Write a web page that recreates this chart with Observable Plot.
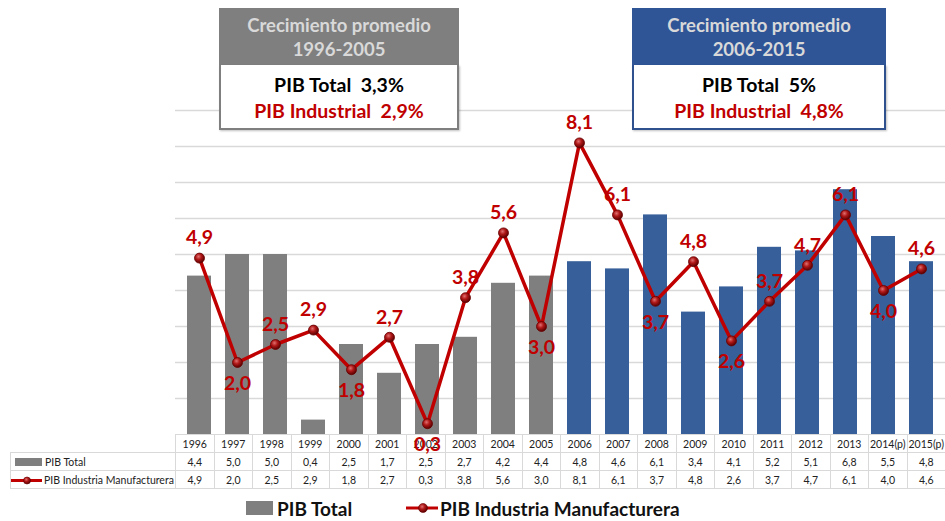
<!DOCTYPE html>
<html>
<head>
<meta charset="utf-8">
<script src="https://cdn.jsdelivr.net/npm/d3@7"></script>
<script src="https://cdn.jsdelivr.net/npm/@observablehq/plot@0.6"></script>
<style>
  body { margin: 0; background: #fff; font-family: Lato, "Open Sans", sans-serif; }
  #wrap { position: relative; width: 945px; height: 521px; overflow: hidden; }
  #chart svg { position: absolute; left: 0; top: 0; overflow: visible; z-index: 2; }
  .box { position: absolute; top: 8px; box-sizing: border-box; z-index: 3; }
  .box .hd { height: 57px; color: #d9d9d9; font-weight: 700; font-size: 18.5px; line-height: 24px; text-align: center; padding-top: 5px; box-sizing: border-box; }
  .box .bd { height: 65px; background: #fff; border: 2px solid; border-top: none; box-sizing: border-box; text-align: center; font-weight: 700; font-size: 19.5px; line-height: 26px; padding-top: 7px; box-shadow: 1px 1px 2px rgba(0,0,0,0.25); }
  .box .bd .red { color: #c00000; }
  table { position: absolute; left: 10px; top: 434px; border-collapse: collapse; table-layout: fixed; width: 935px; font-size: 10.5px; color: #222; z-index: 1; }
  td { border: 1px solid #d9d9d9; height: 17px; padding: 0; text-align: center; white-space: nowrap; overflow: visible; }
  td.lab { text-align: left; padding-left: 2px; }
  td.blank { border: none; }
  #legend { position: absolute; top: 496px; left: 0; width: 945px; height: 24px; font-weight: 700; font-size: 19px; color: #111; }
  #legend .it { position: absolute; top: 0; display: flex; align-items: center; height: 24px; }
</style>
</head>
<body>
<div id="wrap">
  <div id="chart"></div>
</div>
<script>
// ---- data ----
const years = ["1996","1997","1998","1999","2000","2001","2002","2003","2004","2005","2006","2007","2008","2009","2010","2011","2012","2013","2014(p)","2015(p)"];
const pibTotal = [4.4,5.0,5.0,0.4,2.5,1.7,2.5,2.7,4.2,4.4,4.8,4.6,6.1,3.4,4.1,5.2,5.1,6.8,5.5,4.8];
const pibIndustria = [4.9,2.0,2.5,2.9,1.8,2.7,0.3,3.8,5.6,3.0,8.1,6.1,3.7,4.8,2.6,3.7,4.7,6.1,4.0,4.6];
const periods = ["1996-2005","2006-2015"];
const periodOfYear = years.map((y, i) => i < 10 ? periods[0] : periods[1]);
const boxTitle = "Crecimiento promedio";
const boxTotal = ["3,3%","5%"];
const boxIndustrial = ["2,9%","4,8%"];
const seriesNames = ["PIB Total","PIB Industria Manufacturera"];
const gridValues = [1,2,3,4,5,6,7,8,9];

const GRAY = "#7f7f7f", BLUE = "#37609a", HEADBLUE = "#2f5597", RED = "#c00000";
const fmt = v => v.toFixed(1).replace(".", ",");

const data = years.map((y, i) => ({
  year: y, total: pibTotal[i], ind: pibIndustria[i], period: periodOfYear[i],
  low: i > 0 && i < years.length - 1 && pibIndustria[i] < pibIndustria[i-1] && pibIndustria[i] < pibIndustria[i+1]
}));

const chart = Plot.plot({
  width: 945, height: 434,
  marginTop: 110, marginLeft: 175, marginRight: 0, marginBottom: 0,
  x: { domain: years, paddingInner: 0.37, paddingOuter: 0.185, axis: null },
  y: { domain: [0, 9], axis: null },
  color: { domain: periods, range: [GRAY, BLUE] },
  style: { fontFamily: "Lato, 'Open Sans', sans-serif", background: "transparent" },
  marks: [
    Plot.ruleY(gridValues, { stroke: "#d9d9d9", strokeWidth: 1.4 }),
    Plot.barY(data, { x: "year", y: "total", fill: "period" }),
    Plot.line(data, { x: "year", y: "ind", stroke: RED, strokeWidth: 3.5 }),
    Plot.dot(data, { x: "year", y: "ind", r: 5, fill: "url(#ball)", stroke: "#6a0000", strokeWidth: 0.8 }),
    Plot.text(data, { filter: d => !d.low, x: "year", y: "ind", text: d => fmt(d.ind), dy: -20, fill: RED, fontWeight: "bold", fontSize: 19.5 }),
    Plot.text(data, { filter: d => d.low, x: "year", y: "ind", text: d => fmt(d.ind), dy: 21, fill: RED, fontWeight: "bold", fontSize: 19.5 })
  ]
});
// sphere gradient for markers
const defs = d3.select(chart).insert("defs", ":first-child");
const g = defs.append("radialGradient").attr("id", "ball").attr("cx", "40%").attr("cy", "35%").attr("r", "65%");
g.append("stop").attr("offset", "0%").attr("stop-color", "#e07070");
g.append("stop").attr("offset", "45%").attr("stop-color", "#b01818");
g.append("stop").attr("offset", "100%").attr("stop-color", "#5a0000");
document.getElementById("chart").appendChild(chart);

const wrap = document.getElementById("wrap");

// ---- boxes ----
const boxes = [
  { left: 219, width: 240, head: GRAY, border: GRAY, i: 0 },
  { left: 632, width: 254, head: HEADBLUE, border: "#2f528f", i: 1 }
];
boxes.forEach(b => {
  const d = document.createElement("div");
  d.className = "box";
  d.style.left = b.left + "px"; d.style.width = b.width + "px";
  d.innerHTML = `<div class="hd" style="background:${b.head}">${boxTitle}<br>${periods[b.i]}</div>
    <div class="bd" style="border-color:${b.border}">PIB Total&nbsp;&nbsp;${boxTotal[b.i]}<br><span class="red">PIB Industrial&nbsp;&nbsp;${boxIndustrial[b.i]}</span></div>`;
  wrap.appendChild(d);
});

// ---- data table ----
const swBar = `<svg width="27" height="9" style="vertical-align:middle;margin:0 3px 0 2px"><rect x="0" y="0" width="27" height="8" fill="${GRAY}"/></svg>`;
const swLine = `<svg width="31" height="9" style="vertical-align:middle;margin:0 2px 0 0"><line x1="0" x2="31" y1="4.5" y2="4.5" stroke="${RED}" stroke-width="3"/><circle cx="16" cy="4.5" r="3.5" fill="url(#ball)" stroke="#6a0000" stroke-width="0.6"/></svg>`;
let html = `<colgroup><col style="width:165px">${years.map(() => `<col style="width:38.5px">`).join("")}</colgroup>`;
html += `<tr><td class="blank"></td>${years.map(y => `<td>${y}</td>`).join("")}</tr>`;
html += `<tr><td class="lab">${swBar}${seriesNames[0]}</td>${pibTotal.map(v => `<td>${fmt(v)}</td>`).join("")}</tr>`;
html += `<tr><td class="lab" style="padding-left:0">${swLine}${seriesNames[1]}</td>${pibIndustria.map(v => `<td>${fmt(v)}</td>`).join("")}</tr>`;
const table = document.createElement("table");
table.innerHTML = html;
wrap.appendChild(table);

// ---- legend ----
const leg = document.createElement("div");
leg.id = "legend";
leg.innerHTML = `<div class="it" style="left:246px"><svg width="27" height="14" style="margin-right:4px"><rect width="27" height="14" y="0" fill="${GRAY}"/></svg>${seriesNames[0]}</div>
<div class="it" style="left:406px"><svg width="32" height="12" style="margin-right:2px"><line x1="0" x2="32" y1="6" y2="6" stroke="${RED}" stroke-width="3"/><circle cx="17" cy="6" r="4.5" fill="url(#ball)" stroke="#6a0000" stroke-width="0.6"/></svg>${seriesNames[1]}</div>`;
wrap.appendChild(leg);
</script>
</body>
</html>
